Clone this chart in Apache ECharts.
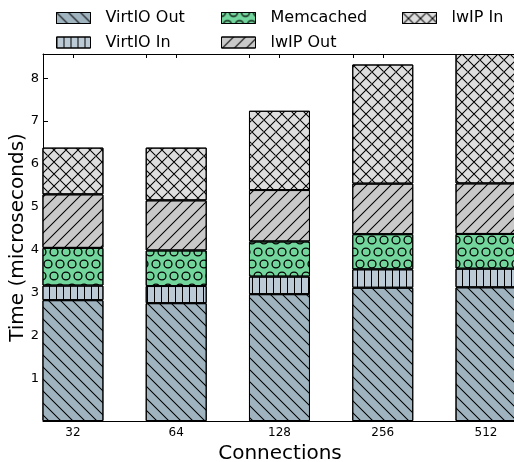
<!DOCTYPE html>
<html>
<head>
<meta charset="utf-8">
<script src="https://cdn.jsdelivr.net/npm/echarts@6/dist/echarts.min.js"></script>
<style>
html,body{margin:0;padding:0;background:#fff;}
#chart{width:514px;height:462px;}
</style>
</head>
<body>
<div id="chart"></div>
<script>
// ---- data ----
const categories = ['32', '64', '128', '256', '512'];
const seriesNames = ['VirtIO Out', 'VirtIO In', 'Memcached', 'lwIP Out', 'lwIP In'];
const virtioOut = [2.82, 2.75, 2.96, 3.11, 3.12];
const virtioIn  = [0.34, 0.40, 0.41, 0.43, 0.435];
const memcached = [0.88, 0.83, 0.82, 0.82, 0.81];
const lwipOut   = [1.25, 1.17, 1.20, 1.18, 1.18];
const lwipIn    = [1.09, 1.23, 1.85, 2.78, 3.02];
const yTicks = [1, 2, 3, 4, 5, 6, 7, 8];

// ---- styles ----
const FONT = 'DejaVu Sans';
const colors = ['#a0b4c0', '#bccad6', '#72d69c', '#c9c9c9', '#dedede'];
const HATCH = '#000';
const a = 0.75, b = 12 - a;
const backPath = `M0,0 L${a},0 L12,${b} L12,12 L${b},12 L0,${a} Z M0,12 L0,${b} L${a},12 Z M12,0 L${b},0 L12,${a} Z`;
const fwdPath = `M12,0 L12,${a} L${a},12 L0,12 L0,${b} L${b},0 Z M0,0 L${a},0 L0,${a} Z M12,12 L12,${b} L${b},12 Z`;
const R = 4.6, r = 3.3;
const ringPath =
  `M${R},0 A${R},${R} 0 0 1 0,${R} L0,${r} A${r},${r} 0 0 0 ${r},0 Z ` +
  `M12,${R} A${R},${R} 0 0 1 ${12-R},0 L${12-r},0 A${r},${r} 0 0 0 12,${r} Z ` +
  `M0,${24-R} A${R},${R} 0 0 1 ${R},24 L${r},24 A${r},${r} 0 0 0 0,${24-r} Z ` +
  `M${12-R},24 A${R},${R} 0 0 1 12,${24-R} L12,${24-r} A${r},${r} 0 0 0 ${12-r},24 Z ` +
  `M${6-R},12 A${R},${R} 0 1 1 ${6+R},12 A${R},${R} 0 1 1 ${6-R},12 Z ` +
  `M${6-r},12 A${r},${r} 0 1 0 ${6+r},12 A${r},${r} 0 1 0 ${6-r},12 Z`;

const decals = [
  { symbol: 'path://' + backPath, symbolSize: 1, dashArrayX: [12, 0], dashArrayY: [12, 0], color: HATCH, symbolKeepAspect: false },
  { symbol: 'rect', symbolSize: 1, dashArrayX: [1, 6], dashArrayY: [1, 0], color: HATCH },
  { symbol: 'path://' + ringPath, symbolSize: 1, dashArrayX: [12, 0], dashArrayY: [24, 0], color: HATCH, symbolKeepAspect: false },
  { symbol: 'path://' + fwdPath, symbolSize: 1, dashArrayX: [12, 0], dashArrayY: [12, 0], color: HATCH, symbolKeepAspect: false },
  { symbol: 'path://' + backPath + ' ' + fwdPath, symbolSize: 1, dashArrayX: [12, 0], dashArrayY: [12, 0], color: HATCH, symbolKeepAspect: false }
];

const values = [virtioOut, virtioIn, memcached, lwipOut, lwipIn];
const barHalfUnits = 0.29;
const idx = categories.map((c, i) => i);
const topTicks = idx.concat(idx.slice(1).map(i => i - barHalfUnits));

const chart = echarts.init(document.getElementById('chart'), null, { renderer: 'canvas' });

const legendCommon = {
  orient: 'vertical', top: 9, padding: 0, icon: 'rect',
  itemWidth: 34, itemHeight: 11, itemGap: 6.5,
  itemStyle: { borderColor: '#000', borderWidth: 1 },
  textStyle: { fontFamily: FONT, fontSize: 16, color: '#000', padding: [0, 0, 0, 10], lineHeight: 18 }
};

const option = {
  animation: false,
  backgroundColor: '#fff',
  textStyle: { fontFamily: FONT },
  legend: [
    Object.assign({}, legendCommon, { left: 56, data: [seriesNames[0], seriesNames[1]] }),
    Object.assign({}, legendCommon, { left: 221, data: [seriesNames[2], seriesNames[3]] }),
    Object.assign({}, legendCommon, { left: 402, data: [seriesNames[4]] })
  ],
  grid: { left: 43, top: 54, width: 474, height: 367, containLabel: false, outerBoundsMode: 'none' },
  xAxis: [
    {
      type: 'value', min: -barHalfUnits, max: categories.length - 1 + 0.3,
      name: 'Connections', nameLocation: 'middle', nameGap: 21,
      nameTextStyle: { fontFamily: FONT, fontSize: 20, color: '#000' },
      axisLine: { show: true, onZero: false, lineStyle: { color: '#000', width: 1 } },
      axisTick: { show: true, inside: true, length: 4, customValues: idx, lineStyle: { color: '#000' } },
      axisLabel: { show: true, customValues: idx, margin: 6, fontFamily: FONT, fontSize: 12, color: '#000',
        formatter: v => categories[Math.round(v)] },
      splitLine: { show: false }
    },
    {
      type: 'value', position: 'top', min: -barHalfUnits, max: categories.length - 1 + 0.3,
      axisLine: { show: true, onZero: false, lineStyle: { color: '#000', width: 1 } },
      axisTick: { show: true, inside: true, length: 4, customValues: topTicks, lineStyle: { color: '#000' } },
      axisLabel: { show: false },
      splitLine: { show: false }
    }
  ],
  yAxis: {
    type: 'value', min: 0, max: v => v.max, interval: 1,
    name: 'Time (microseconds)', nameLocation: 'middle', nameGap: 15, nameMoveOverlap: false,
    nameTextStyle: { fontFamily: FONT, fontSize: 20, color: '#000' },
    axisLine: { show: true, onZero: false, lineStyle: { color: '#000', width: 1 } },
    axisTick: { show: true, inside: true, length: 5, lineStyle: { color: '#000' } },
    axisLabel: { margin: 4, fontFamily: FONT, fontSize: 13, color: '#000',
      formatter: v => (yTicks.indexOf(v) >= 0 ? String(v) : '') },
    splitLine: { show: false }
  },
  series: seriesNames.map((name, s) => ({
    name, type: 'bar', stack: 'total', barWidth: 61, xAxisIndex: 0,
    encode: { x: 1, y: 0 },
    itemStyle: { color: colors[s], borderColor: '#000', borderWidth: 1, decal: decals[s] },
    emphasis: { disabled: true },
    data: values[s].map((v, i) => [v, i])
  }))
};
chart.setOption(option);
</script>
</body>
</html>
